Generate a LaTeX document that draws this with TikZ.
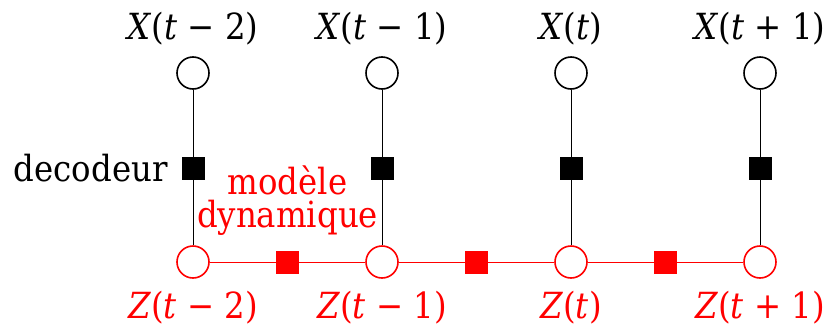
\documentclass[tikz,border=0pt]{standalone}
\usepackage{fontspec}
\setmainfont{DejaVu Serif Condensed}
\begin{document}
\begin{tikzpicture}[x=0.5pt, y=-0.5pt,
  var/.style={draw, circle, fill=white, line width=0.8pt, minimum size=16pt, inner sep=0pt},
  obs/.style={var, draw=black},
  lat/.style={var, draw=red},
  fac/.style={rectangle, inner sep=0pt, minimum size=11.5pt},
  lbl/.style={font=\fontsize{18}{21}\selectfont, anchor=base, inner sep=0pt}]
\useasboundingbox (0,0) rectangle (829,327);
% observed variables
\node[obs] (x1) at (193,73) {};
\node[obs] (x2) at (382,73) {};
\node[obs] (x3) at (571,73) {};
\node[obs] (x4) at (760,73) {};
% latent variables
\node[lat] (z1) at (193,262) {};
\node[lat] (z2) at (382,262) {};
\node[lat] (z3) at (571,262) {};
\node[lat] (z4) at (760,262) {};
% edges
\draw[line width=0.5pt] (x1) -- (z1);
\draw[line width=0.5pt] (x2) -- (z2);
\draw[line width=0.5pt] (x3) -- (z3);
\draw[line width=0.5pt] (x4) -- (z4);
\draw[red, line width=0.5pt] (z1) -- (z2) -- (z3) -- (z4);
% decoder factors
\node[fac, fill=black] (d1) at (193,168) {};
\node[fac, fill=black] (d2) at (382,168) {};
\node[fac, fill=black] (d3) at (571,168) {};
\node[fac, fill=black] (d4) at (760,168) {};
% dynamics factors
\node[fac, fill=red] (m1) at (287.5,262) {};
\node[fac, fill=red] (m2) at (476.5,262) {};
\node[fac, fill=red] (m3) at (665.5,262) {};
% labels
\node[lbl] (lx1) at (193,39) {\textit{X}(\textit{t} − 2)};
\node[lbl] (lx2) at (382,39) {\textit{X}(\textit{t} − 1)};
\node[lbl] (lx3) at (571,39) {\textit{X}(\textit{t})};
\node[lbl] (lx4) at (760,39) {\textit{X}(\textit{t} + 1)};
\node[lbl, red] (lz1) at (193,318) {\textit{Z}(\textit{t} − 2)};
\node[lbl, red] (lz2) at (382,318) {\textit{Z}(\textit{t} − 1)};
\node[lbl, red] (lz3) at (571,318) {\textit{Z}(\textit{t})};
\node[lbl, red] (lz4) at (760,318) {\textit{Z}(\textit{t} + 1)};
\node[lbl, anchor=base east] (dec) at (168,181) {decodeur};
\node[lbl, red, align=center, anchor=south, font=\fontsize{18}{16.5}\selectfont] (dyn) at (287.5,236) {modèle\\dynamique};
\end{tikzpicture}
\end{document}
